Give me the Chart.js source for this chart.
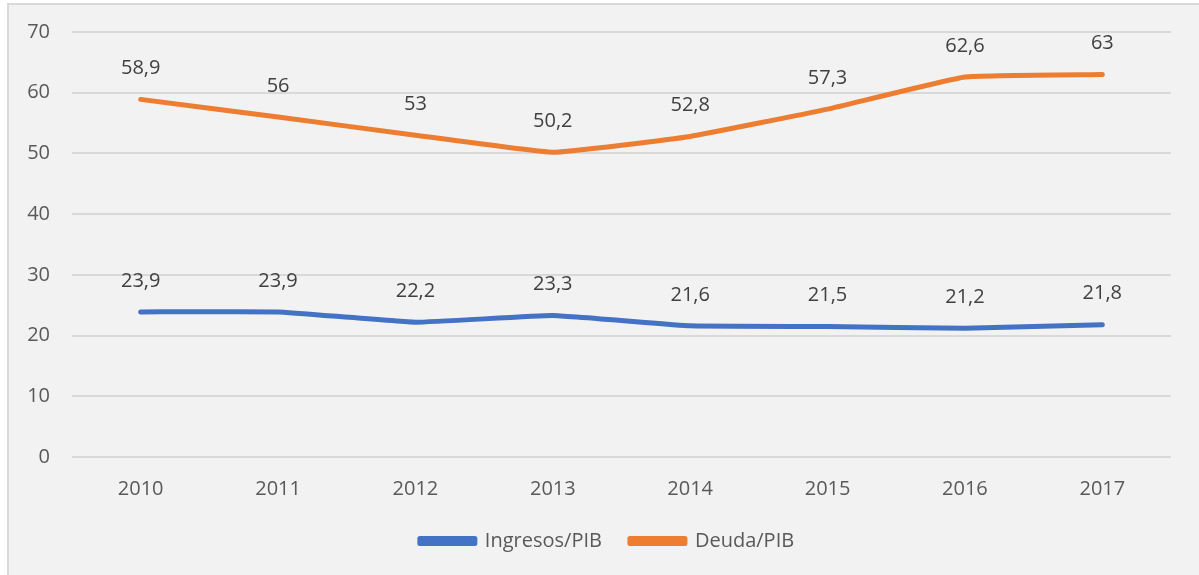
<!DOCTYPE html>
<html>
<head>
<meta charset="utf-8">
<script src="https://cdn.jsdelivr.net/npm/chart.js@4.4.0/dist/chart.umd.min.js"></script>
<style>
    body { margin: 0; background: #ffffff; }
    #box {
        position: absolute; left: 7px; top: 3px;
        width: 1192px; height: 572px;
        background: #f2f2f2;
        border-left: 2px solid #d9d9d9;
        border-top: 2px solid #d9d9d9;
    }
</style>
</head>
<body>
<div id="box"><canvas id="myChart" width="1190" height="570"></canvas></div>

<script>
    const years = ['2010', '2011', '2012', '2013', '2014', '2015', '2016', '2017'];
    const ingresos = [23.9, 23.9, 22.2, 23.3, 21.6, 21.5, 21.2, 21.8];
    const deuda = [58.9, 56, 53, 50.2, 52.8, 57.3, 62.6, 63];

    const fontFamily = "'Open Sans', sans-serif";

    // data labels above each point, comma decimals
    const pointLabels = {
        id: 'pointLabels',
        afterLayout(chart) {
            // nudge the legend a bit to the right, like the original
            chart.legend.left += 17;
            chart.legend.right += 17;
        },
        afterDatasetsDraw(chart) {
            const ctx = chart.ctx;
            ctx.save();
            ctx.font = "20px " + fontFamily;
            ctx.fillStyle = '#404040';
            ctx.textAlign = 'center';
            ctx.textBaseline = 'middle';
            chart.data.datasets.forEach((ds, i) => {
                chart.getDatasetMeta(i).data.forEach((pt, j) => {
                    ctx.fillText(String(ds.data[j]).replace('.', ','), pt.x, pt.y - 31);
                });
            });
            ctx.restore();
        }
    };

    const config = {
        type: 'line',
        data: {
            labels: years,
            datasets: [{
                label: 'Ingresos/PIB',
                data: ingresos,
                borderColor: '#4472C4',
                backgroundColor: '#4472C4',
                borderWidth: 5,
                pointRadius: 0,
                borderCapStyle: 'round',
                borderJoinStyle: 'round',
                tension: 0.1
            },
            {
                label: 'Deuda/PIB',
                data: deuda,
                borderColor: '#ED7D31',
                backgroundColor: '#ED7D31',
                borderWidth: 5,
                pointRadius: 0,
                borderCapStyle: 'round',
                borderJoinStyle: 'round',
                tension: 0.1
            }]
        },
        options: {
            responsive: false,
            animation: false,
            layout: { padding: { left: 0, right: 28, top: 27, bottom: 14 } },
            plugins: {
                tooltip: { enabled: false },
                legend: {
                    position: 'bottom',
                    labels: {
                        boxWidth: 55,
                        boxHeight: 5,
                        padding: 28,
                        color: '#595959',
                        font: { family: fontFamily, size: 20 }
                    }
                }
            },
            scales: {
                x: {
                    offset: true,
                    grid: { display: false },
                    border: { display: false },
                    ticks: { padding: 12, color: '#595959', font: { family: fontFamily, size: 20 } },
                    afterFit(scale) { scale.height = 46; }
                },
                y: {
                    min: 0,
                    max: 70,
                    ticks: { stepSize: 10, padding: 22, color: '#595959', font: { family: fontFamily, size: 20 } },
                    grid: { color: '#d9d9d9', lineWidth: 2, drawTicks: false },
                    border: { display: false },
                    afterFit(scale) {
                        scale.width = 63;
                        scale.paddingTop = 0;
                        scale.paddingBottom = 0;
                    }
                }
            }
        },
        plugins: [pointLabels]
    };

    var chart = new Chart(document.getElementById('myChart'), config);
</script>
</body>
</html>
